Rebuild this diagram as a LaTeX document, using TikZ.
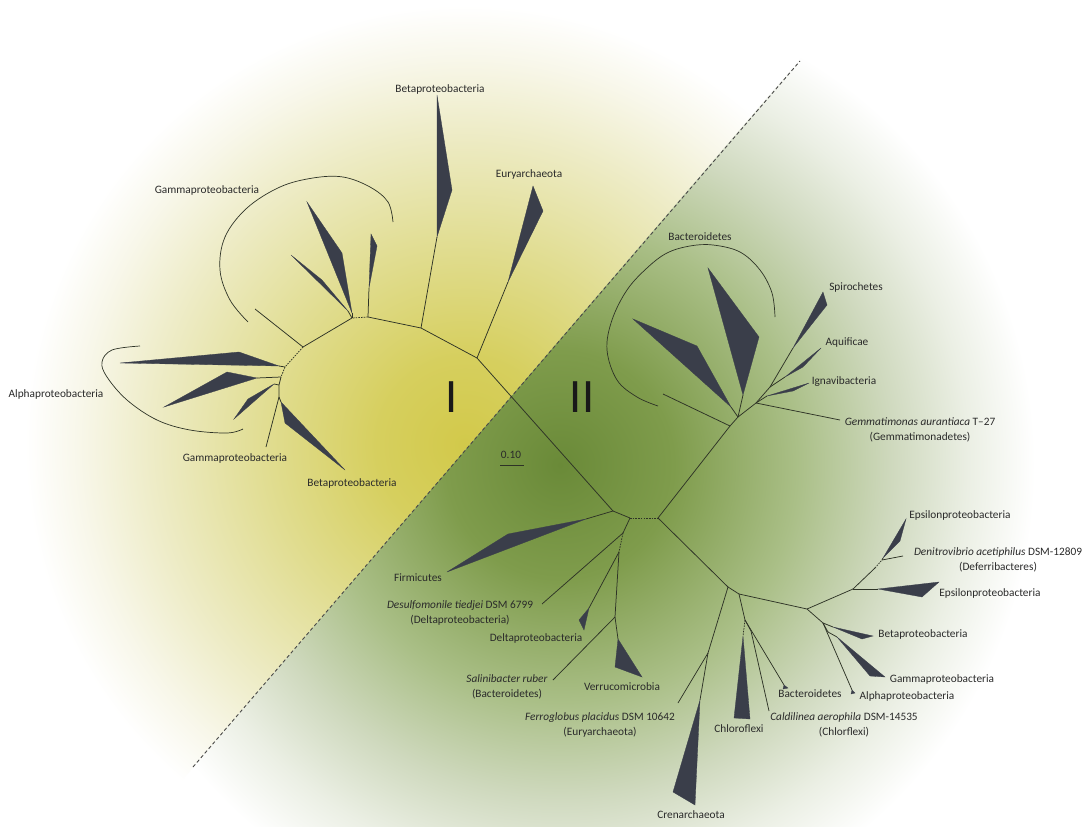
\documentclass[tikz,border=0pt]{standalone}
\usepackage{tikz}
\usepackage{fontspec}
\setmainfont{Carlito}
\definecolor{linec}{HTML}{2E3326}
\definecolor{cladec}{HTML}{3A3E4A}
\definecolor{textc}{HTML}{2A2A2A}
\definecolor{divc}{HTML}{4A4A48}
\definecolor{yA}{HTML}{D2C94A}
\definecolor{yB}{HTML}{D6CF5E}
\definecolor{yC}{HTML}{E0DC8E}
\definecolor{yD}{HTML}{EDEBC4}
\definecolor{yE}{HTML}{F8F7EA}
\definecolor{gA}{HTML}{6A8A38}
\definecolor{gB}{HTML}{7F9C4C}
\definecolor{gC}{HTML}{AABF87}
\definecolor{gD}{HTML}{CFD9BE}
\definecolor{gE}{HTML}{EBEFE4}
% the shaded circle's rim sits at 25bp
\pgfdeclareradialshading{yellowfield}{\pgfpoint{0bp}{0bp}}{color(0bp)=(yA); color(5bp)=(yB); color(11bp)=(yC); color(17.5bp)=(yD); color(22bp)=(yE); color(25bp)=(white); color(50bp)=(white)}
\pgfdeclareradialshading{greenfield}{\pgfpoint{0bp}{0bp}}{color(0bp)=(gA); color(6bp)=(gB); color(12.5bp)=(gC); color(17.5bp)=(gD); color(21.5bp)=(gE); color(25bp)=(white); color(50bp)=(white)}
\begin{document}
\begin{tikzpicture}[x=1pt,y=-1pt,
  br/.style={draw=linec, line width=0.75pt},
  dbr/.style={draw=linec, line width=0.75pt, dash pattern=on 1.6pt off 1.1pt},
  clade/.style={fill=cladec, draw=cladec, line width=0.3pt, line join=miter},
  lab/.style={text=textc, font=\fontsize{11.3}{14.3}\selectfont, inner sep=0pt, align=center},
  roman/.style={text=black!90, font=\fontsize{48}{48}\selectfont, inner sep=0pt},
  divider/.style={draw=divc, line width=0.9pt, dash pattern=on 3.5pt off 2.5pt}]
\useasboundingbox (0,0) rectangle (1088,827);
\fill[white] (0,0) rectangle (1088,827);

% ---- background fields on each side of the divide ----
\begin{scope}
  \clip (0,0) -- (851,0) -- (142,827) -- (0,827) -- cycle;
  \shade[shading=yellowfield] (465,445) circle[radius=440];
\end{scope}
\begin{scope}
  \clip (851,0) -- (1088,0) -- (1088,827) -- (142,827) -- cycle;
  \shade[shading=greenfield] (560,465) circle[radius=475];
\end{scope}
\coordinate (dv1) at (193,767);
\coordinate (dv2) at (800,61);
\draw[divider] (dv1) -- (dv2);

% ---- group I: internal nodes ----
\coordinate (r1) at (613,511);
\coordinate (p1) at (477,358);
\coordinate (p2) at (421,328);
\coordinate (p3) at (368,317);
\coordinate (p3b) at (352,318);
\coordinate (p4) at (303,347);
\coordinate (q1) at (285,367);
\coordinate (q2) at (281,377);
\coordinate (q3) at (279,385);
\coordinate (q4) at (279,397);
% clade bases and leaf ends
\coordinate (eu) at (508,282);
\coordinate (bt) at (437,237);
\coordinate (sp) at (369,288);
\coordinate (gb) at (352,313);
\coordinate (gs) at (348,311);
\coordinate (gl) at (255,309);
\coordinate (a1) at (279,366);
\coordinate (a2) at (257,378);
\coordinate (a3) at (274,384);
\coordinate (bl) at (281,402);
\coordinate (gl2) at (266,447);

\draw[br] (r1) -- (p1) -- (p2) -- (p3);
\draw[dbr] (p3) -- (p3b);
\draw[br] (p3b) -- (p4);
\draw[dbr] (p4) -- (q1) -- (q2);
\draw[br] (q2) -- (q3) -- (q4);
\draw[br] (p1) -- (eu);
\draw[br] (p2) -- (bt);
\draw[br] (p3) -- (sp);
\draw[br] (p3b) -- (gb);
\draw[br] (p3b) -- (gs);
\draw[br] (p4) -- (gl);
\draw[br] (q1) -- (a1);
\draw[br] (q2) -- (a2);
\draw[br] (q3) -- (a3);
\draw[br] (q4) -- (bl);
\draw[br] (q4) -- (gl2);

\fill[clade] (eu) -- (533,186) -- (543,211) -- cycle;
\fill[clade] (bt) -- (437,95) -- (452,190) -- cycle;
\fill[clade] (sp) -- (371,234) -- (377,246) -- cycle;
\fill[clade] (gb) -- (307,202) -- (342,253) -- cycle;
\fill[clade] (gs) -- (291,255) -- (322,280) -- cycle;
\fill[clade] (a1) -- (239,352) -- (120,363) -- cycle;
\fill[clade] (a2) -- (227,372) -- (164,407) -- cycle;
\fill[clade] (a3) -- (248,399) -- (234,419) -- cycle;
\fill[clade] (bl) -- (285,423) -- (345,470) -- cycle;

% brackets round the grouped clades
\draw[br, line width=0.7pt] plot[smooth, tension=0.6] coordinates {(248,322) (230,300) (220,270) (225,237) (247,208) (280,187) (313,178) (343,177) (370,187) (388,202) (393,222)};
\draw[br, line width=0.7pt] plot[smooth, tension=0.6] coordinates {(140,346) (112,350) (102,362) (107,377) (127,400) (157,420) (190,430) (227,433) (243,429)};

% group I labels
\node[lab] (tBeta1) at (440,89) {Betaproteobacteria};
\node[lab] (tEury1) at (529,174) {Euryarchaeota};
\node[lab] (tGam1) at (207,190) {Gammaproteobacteria};
\node[lab] (tAlp1) at (56,394) {Alphaproteobacteria};
\node[lab] (tGam2) at (235,458) {Gammaproteobacteria};
\node[lab] (tBeta2) at (352,483) {Betaproteobacteria};
\node[roman] (tI) at (452,397) {I};
\node[roman] (tII) at (582,397) {II};

% scale bar
\node[lab] (tScale) at (511,455) {0.10};
\coordinate (sb1) at (500,465);
\coordinate (sb2) at (524,465);
\draw[br] (sb1) -- (sb2);

% ---- group II: internal nodes ----
\coordinate (r2) at (630,518);
\coordinate (r3) at (658,518);
\coordinate (r2b) at (623,533);
\coordinate (r4) at (619,552);
\coordinate (r5) at (615,617);
\coordinate (firm) at (586,519);
\coordinate (desul) at (542,604);
\coordinate (delta) at (589,608);
\coordinate (salin) at (553,680);
\coordinate (verr) at (618,639);

\draw[br] (r1) -- (r2);
\draw[dbr] (r2) -- (r3);
\draw[br] (r2) -- (r2b);
\draw[dbr] (r2b) -- (r4);
\draw[br] (r4) -- (r5);
\draw[br] (r1) -- (firm);
\draw[br] (r2b) -- (desul);
\draw[br] (r4) -- (delta);
\draw[br] (r5) -- (salin);
\draw[br] (r5) -- (verr);
\fill[clade] (firm) -- (508,534) -- (447,572) -- cycle;
\fill[clade] (delta) -- (579,620) -- (584,630) -- cycle;
\fill[clade] (verr) -- (615,667) -- (642,677) -- cycle;

% upper branch of group II
\coordinate (f) at (730,426);
\coordinate (g) at (738,417);
\coordinate (h) at (756,403);
\coordinate (k) at (770,387);
\coordinate (bx) at (663,394);
\coordinate (lt) at (731,407);
\coordinate (rt) at (743,395);
\coordinate (gem) at (840,420);
\coordinate (ig) at (767,396);
\coordinate (aq) at (785,377);
\coordinate (spi) at (793,348);

\draw[br] (r3) -- (f) -- (g) -- (h) -- (k);
\draw[br] (f) -- (bx);
\draw[br] (g) -- (lt);
\draw[br] (g) -- (rt);
\draw[br] (h) -- (gem);
\draw[br] (h) -- (ig);
\draw[br] (k) -- (aq);
\draw[br] (k) -- (spi);
\fill[clade] (lt) -- (697,346) -- (633,319) -- cycle;
\fill[clade] (rt) -- (759,337) -- (708,268) -- cycle;
\fill[clade] (ig) -- (809,383) -- (793,391) -- cycle;
\fill[clade] (aq) -- (821,348) -- (803,367) -- cycle;
\fill[clade] (spi) -- (823,292) -- (827,305) -- cycle;
\draw[br, line width=0.7pt] plot[smooth, tension=0.6] coordinates {(658,406) (637,397) (617,380) (607,350) (612,320) (627,290) (647,268) (667,253) (690,246) (713,245) (740,252) (760,270) (772,293) (775,317)};

% lower branch of group II
\coordinate (a) at (728,587);
\coordinate (n) at (708,653);
\coordinate (b) at (739,594);
\coordinate (b2) at (745,620);
\coordinate (b3) at (751,631);
\coordinate (c) at (807,609);
\coordinate (d) at (853,589);
\coordinate (d2) at (875,568);
\coordinate (e) at (882,560);
\coordinate (f1) at (823,623);
\coordinate (f2) at (828,632);
\coordinate (ferro) at (678,703);
\coordinate (cren) at (700,700);
\coordinate (chl) at (743,636);
\coordinate (bac) at (784,685);
\coordinate (cal) at (769,711);
\coordinate (ep2) at (878,589);
\coordinate (den) at (903,556);
\coordinate (ep1) at (883,558);
\coordinate (bet) at (833,627);
\coordinate (gam) at (837,637);
\coordinate (alp) at (852,690);

\draw[br] (r3) -- (a) -- (n);
\draw[br] (n) -- (ferro);
\draw[br] (n) -- (cren);
\draw[br] (a) -- (b) -- (b2);
\draw[dbr] (b2) -- (chl);
\draw[br] (b2) -- (bac);
\draw[br] (b2) -- (b3) -- (cal);
\draw[br] (b) -- (c) -- (d);
\draw[br] (d) -- (ep2);
\draw[br] (d) -- (d2);
\draw[dbr] (d2) -- (e);
\draw[br] (e) -- (den);
\draw[br] (e) -- (ep1);
\draw[br] (c) -- (f1) -- (f2);
\draw[br] (f1) -- (bet);
\draw[br] (f2) -- (gam);
\draw[br] (f1) -- (alp);
\fill[clade] (cren) -- (673,792) -- (695,805) -- cycle;
\fill[clade] (chl) -- (734,718) -- (750,719) -- cycle;
\fill[clade] (bac) -- (788,688) -- (783,689) -- cycle;
\fill[clade] (ep2) -- (939,582) -- (922,597) -- cycle;
\fill[clade] (ep1) -- (906,519) -- (900,541) -- cycle;
\fill[clade] (bet) -- (873,636) -- (862,639) -- cycle;
\fill[clade] (gam) -- (885,677) -- (870,676) -- cycle;
\fill[clade] (alp) -- (855,693) -- (851,694) -- cycle;

% group II labels
\node[lab] (tBac1) at (700,237) {Bacteroidetes};
\node[lab] (tSpi) at (856,287) {Spirochetes};
\node[lab] (tAqu) at (847,343) {Aquificae};
\node[lab] (tIgn) at (844,382) {Ignavibacteria};
\node[lab] (tGem) at (920,430) {\textit{Gemmatimonas aurantiaca} T\textendash27\\(Gemmatimonadetes)};
\node[lab] (tFirm) at (418,578) {Firmicutes};
\node[lab] (tDes) at (460,613) {\textit{Desulfomonile tiedjei} DSM 6799\\(Deltaproteobacteria)};
\node[lab] (tDel) at (536,638) {Deltaproteobacteria};
\node[lab] (tSal) at (507,687) {\textit{Salinibacter ruber}\\(Bacteroidetes)};
\node[lab] (tVer) at (622,687) {Verrucomicrobia};
\node[lab] (tFer) at (600,725) {\textit{Ferroglobus placidus} DSM 10642\\(Euryarchaeota)};
\node[lab] (tCre) at (691,815) {Crenarchaeota};
\node[lab] (tChl) at (739,729) {Chloroflexi};
\node[lab] (tBac2) at (810,694) {Bacteroidetes};
\node[lab] (tCal) at (844,725) {\textit{Caldilinea aerophila} DSM-14535\\(Chlorflexi)};
\node[lab] (tAlp2) at (907,696) {Alphaproteobacteria};
\node[lab] (tGam3) at (942,679) {Gammaproteobacteria};
\node[lab] (tBet3) at (923,634) {Betaproteobacteria};
\node[lab] (tEps2) at (990,593) {Epsilonproteobacteria};
\node[lab] (tDen) at (998,560) {\textit{Denitrovibrio acetiphilus} DSM-12809\\(Deferribacteres)};
\node[lab] (tEps1) at (960,515) {Epsilonproteobacteria};
\end{tikzpicture}
\end{document}
